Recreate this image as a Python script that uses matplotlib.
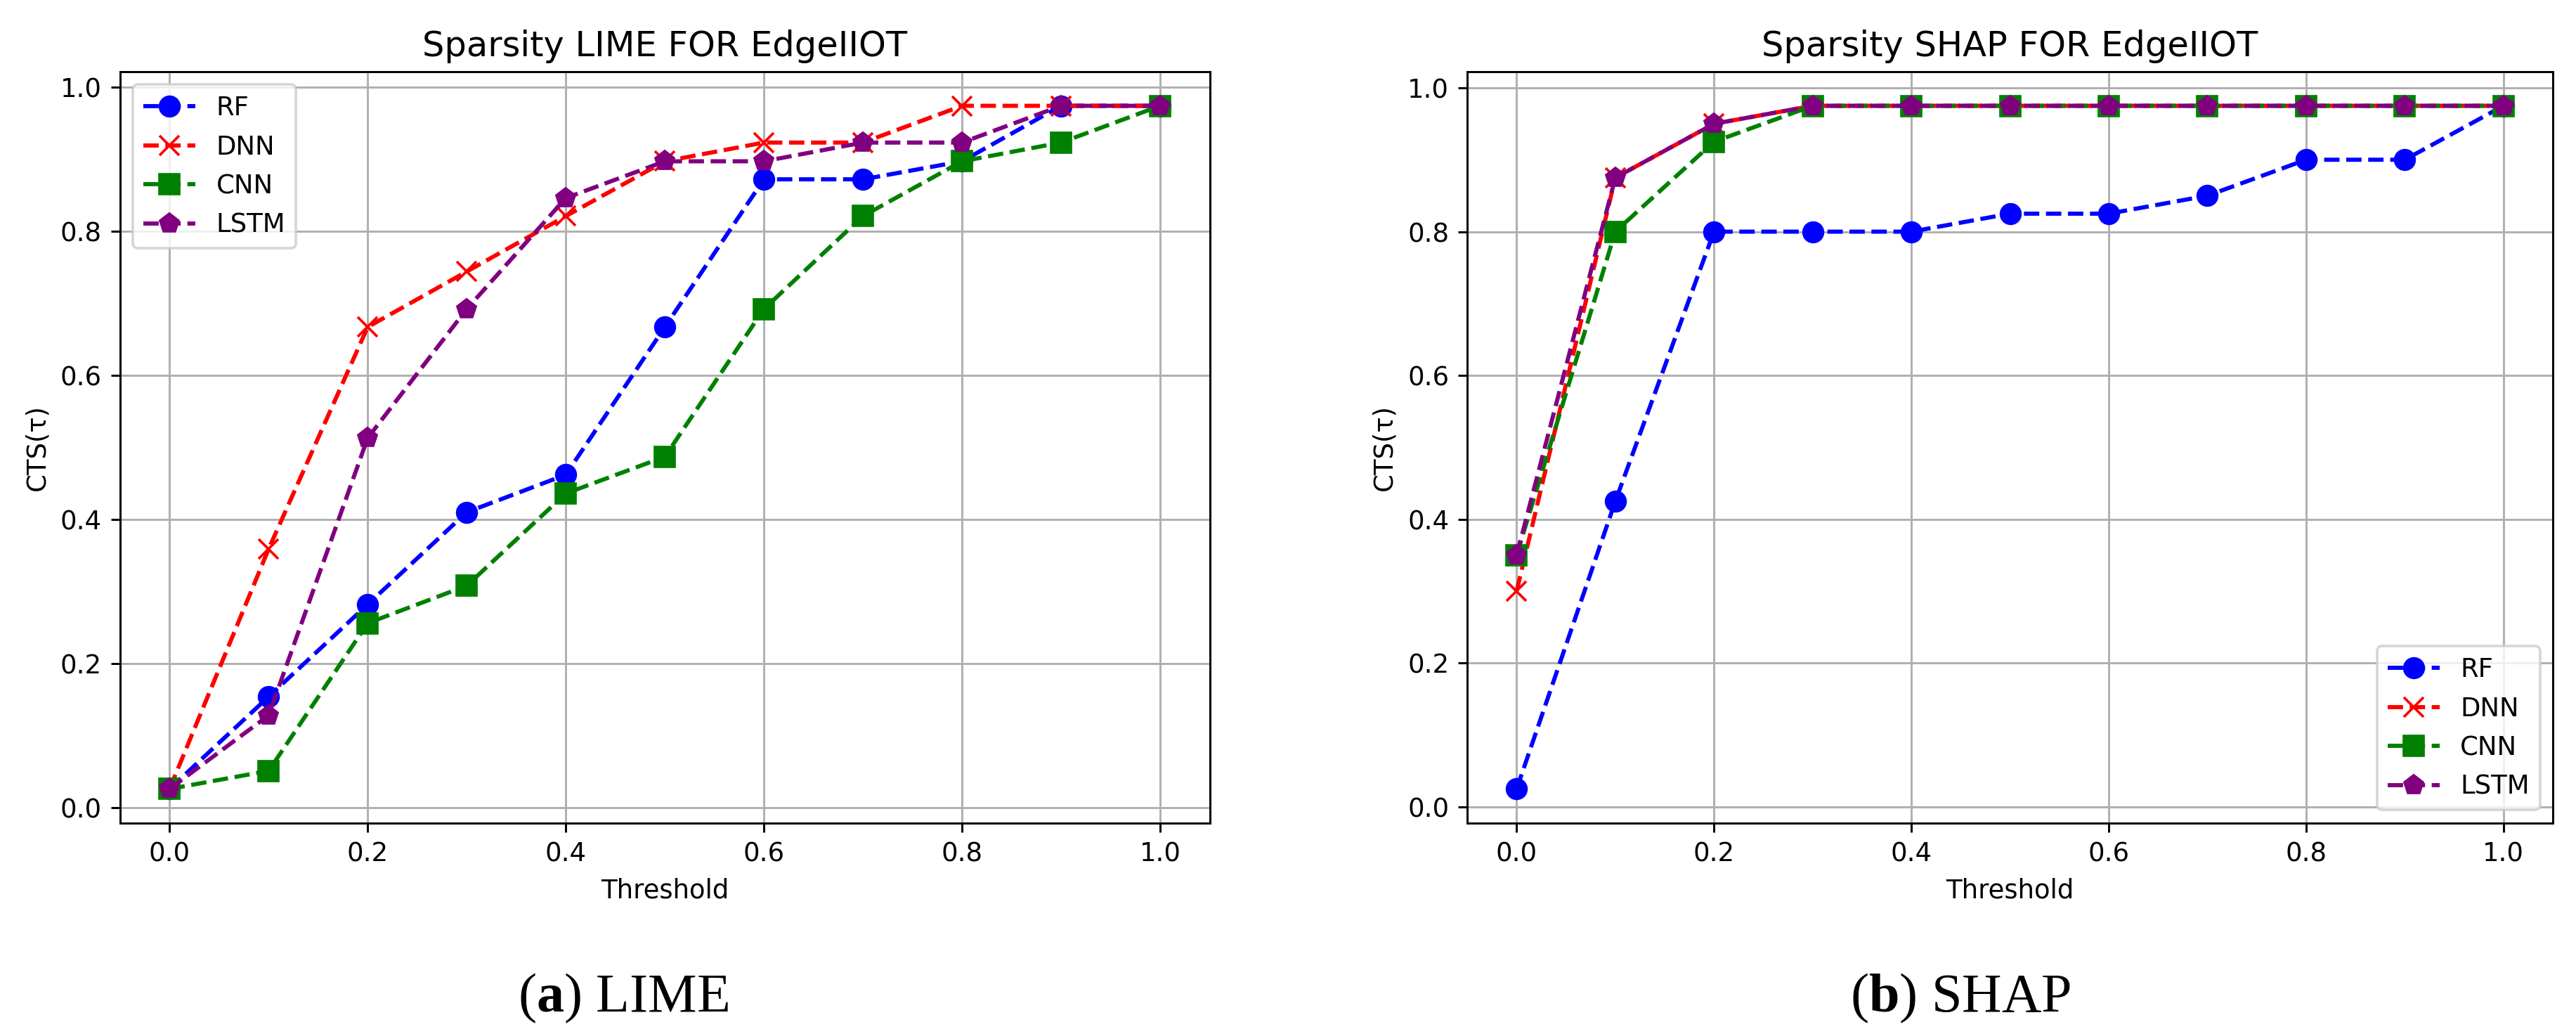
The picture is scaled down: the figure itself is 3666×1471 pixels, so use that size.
import matplotlib
matplotlib.use("Agg")
import matplotlib.pyplot as plt

# 閾値
thresholds = [0.0, 0.1, 0.2, 0.3, 0.4, 0.5, 0.6, 0.7, 0.8, 0.9, 1.0]
models = ["RF", "DNN", "CNN", "LSTM"]

# LIME sparsity
lime_rf = [0.026, 0.154, 0.282, 0.410, 0.462, 0.667, 0.872, 0.872, 0.897, 0.974, 0.974]
lime_dnn = [0.026, 0.359, 0.667, 0.744, 0.821, 0.897, 0.923, 0.923, 0.974, 0.974, 0.974]
lime_cnn = [0.026, 0.051, 0.256, 0.308, 0.436, 0.487, 0.692, 0.821, 0.897, 0.923, 0.974]
lime_lstm = [0.026, 0.128, 0.513, 0.692, 0.846, 0.897, 0.897, 0.923, 0.923, 0.974, 0.974]

# SHAP sparsity
shap_rf = [0.025, 0.425, 0.800, 0.800, 0.800, 0.825, 0.825, 0.850, 0.900, 0.900, 0.975]
shap_dnn = [0.300, 0.875, 0.950, 0.975, 0.975, 0.975, 0.975, 0.975, 0.975, 0.975, 0.975]
shap_cnn = [0.350, 0.800, 0.925, 0.975, 0.975, 0.975, 0.975, 0.975, 0.975, 0.975, 0.975]
shap_lstm = [0.350, 0.875, 0.950, 0.975, 0.975, 0.975, 0.975, 0.975, 0.975, 0.975, 0.975]

styles = {
    "RF": dict(color="blue", marker="o"),
    "DNN": dict(color="red", marker="x"),
    "CNN": dict(color="green", marker="s"),
    "LSTM": dict(color="purple", marker="p"),
}

plt.rcParams["mathtext.fontset"] = "custom"
plt.rcParams["mathtext.rm"] = "Liberation Serif"
plt.rcParams["mathtext.bf"] = "Liberation Serif:bold"

DPI = 266
fig = plt.figure(figsize=(3666 / DPI, 1471 / DPI), dpi=DPI)
ax1 = fig.add_axes([0.0466, 0.204, 0.423, 0.7267])
ax2 = fig.add_axes([0.5696, 0.204, 0.4214, 0.7267])


def draw(ax, series, title, legend_loc):
    for name, vals in zip(models, series):
        ax.plot(thresholds, vals, linestyle="--", linewidth=1.6, markersize=7.5,
                label=name, **styles[name])
    ax.set_title(title, fontsize=13.4)
    ax.set_xlabel("Threshold", fontsize=10)
    ax.set_ylabel("CTS(τ)", fontsize=10)
    ax.set_xticks([0.0, 0.2, 0.4, 0.6, 0.8, 1.0])
    ax.set_yticks([0.0, 0.2, 0.4, 0.6, 0.8, 1.0])
    ax.tick_params(labelsize=10)
    ax.grid(True)
    ax.legend(loc=legend_loc, fontsize=10)


draw(ax1, [lime_rf, lime_dnn, lime_cnn, lime_lstm], "Sparsity LIME FOR EdgeIIOT", "upper left")
draw(ax2, [shap_rf, shap_dnn, shap_cnn, shap_lstm], "Sparsity SHAP FOR EdgeIIOT", "lower right")

# サブ図キャプション
fig.text(0.242, 0.0218, r"($\mathbf{a}$) LIME", ha="center", va="baseline",
         fontsize=21.2, family="Liberation Serif")
fig.text(0.761, 0.0218, r"($\mathbf{b}$) SHAP", ha="center", va="baseline",
         fontsize=21.2, family="Liberation Serif")

fig.savefig("out.png", dpi=DPI)
